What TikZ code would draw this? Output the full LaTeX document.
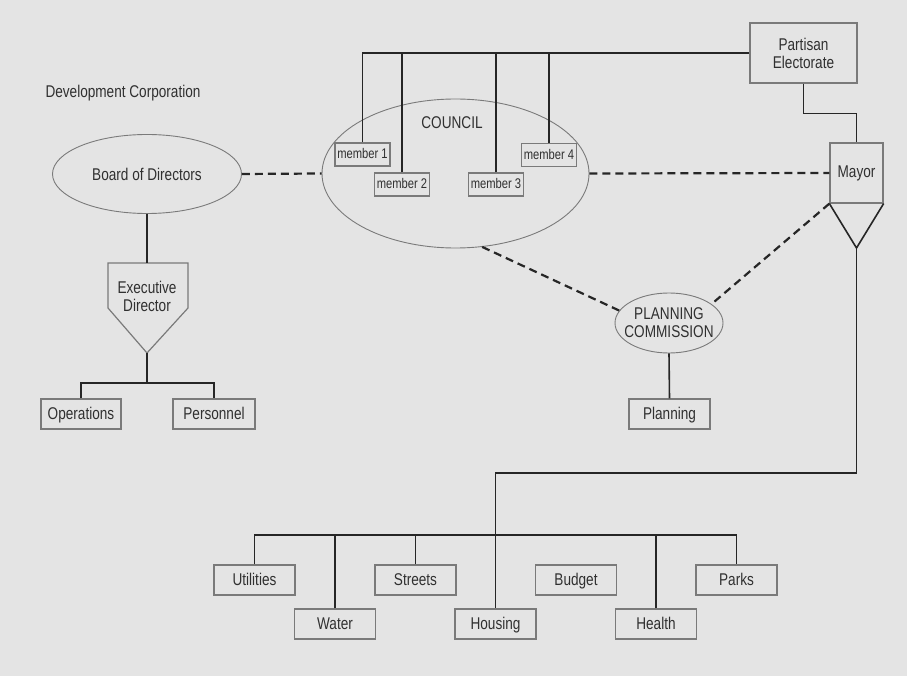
\documentclass[tikz,border=0pt]{standalone}
\usepackage{fontspec}
\setmainfont{Liberation Sans}[FakeStretch=0.8]
\usetikzlibrary{shapes.geometric}
\definecolor{paper}{HTML}{E4E4E4}
\definecolor{edge}{HTML}{7A7A7A}
\definecolor{ink}{HTML}{303030}
\tikzset{
	frame/.style={draw=edge, line width=1.2pt, text=ink, inner sep=0pt},
	unit/.style={frame, minimum width=81pt, minimum height=30pt, text height=13pt, text depth=2.5pt},
	member/.style={unit, minimum width=55pt, minimum height=23pt, text height=10.5pt, text depth=2pt, font=\fontsize{14}{15}\selectfont},
	oval/.style={ellipse, draw=edge, line width=0.9pt, text=ink, inner sep=0pt},
	link/.style={line width=1.6pt, draw=black!85},
	tie/.style={line width=2.2pt, draw=black!85, dash pattern=on 8pt off 5pt},
}
\begin{document}
\begin{tikzpicture}[x=1pt, y=-1pt, font=\fontsize{17}{18}\selectfont, align=center]
	\useasboundingbox[fill=paper] (0,0) rectangle (907,676);
	\node[anchor=west, text=ink] (devcorp) at (42,93) {Development Corporation};
	\node[oval, minimum width=189pt, minimum height=79pt] (board) at (147,174) {Board of Directors};
	\node[text=ink] (exec) at (147,296) {Executive\\Director};
	\draw[draw=edge, line width=1.2pt] (108,263) -- (188,263) -- (188,308) -- (147,353) -- (108,308) -- cycle;
	\coordinate (exectop) at (147,263);
	\coordinate (execapex) at (147,353);
	\node[unit, minimum width=80pt] (ops) at (81,414) {Operations};
	\node[unit, minimum width=82pt] (pers) at (214,414) {Personnel};
	\node[oval, minimum width=267pt, minimum height=149pt] (council) at (455.5,173.5) {};
	\node[text=ink] (councilname) at (452,123) {COUNCIL};
	\node[member] (m1) at (362.5,154.5) {member 1};
	\node[member] (m2) at (402,184.5) {member 2};
	\node[member] (m3) at (496,184.5) {member 3};
	\node[member] (m4) at (549,155) {member 4};
	\node[frame, minimum width=107pt, minimum height=60pt] (partisan) at (803.5,53) {Partisan\\Electorate};
	\node[frame, minimum width=53pt, minimum height=60pt] (mayor) at (856.5,173) {Mayor};
	\coordinate (mayorapex) at (856.5,248);
	\node[oval, minimum width=108pt, minimum height=60pt, label={[text=ink]center:PLANNING\\COMMISSION}] (pc) at (669,323) {};
	\node[unit] (plan) at (669.5,414) {Planning};
	\node[unit] (util) at (254.5,580) {Utilities};
	\node[unit] (water) at (335,624) {Water};
	\node[unit] (streets) at (415.5,580) {Streets};
	\node[unit] (housing) at (495.5,624) {Housing};
	\node[unit] (budget) at (576,580) {Budget};
	\node[unit] (health) at (656,624) {Health};
	\node[unit] (parks) at (736.5,580) {Parks};
	\coordinate (devbus) at (0,383);
	\coordinate (citybus) at (0,535);
\draw[tie] (board.east) -- (council.west);
\draw[tie] (council.east) -- (mayor.west);
\draw[tie] (council.-70) -- (pc.166);
\draw[tie] (mayor.south west) -- (pc.24);
\draw[link] (board.south) -- (exectop);
\draw[link] (execapex) -- (execapex |- devbus);
\draw[link] (ops.north) -- (ops.north |- devbus) -| (pers.north);
\draw[link] (m1.north) |- (partisan.west);
\draw[link] (m2.north) -- (m2.north |- partisan.west);
\draw[link] (m3.north) -- (m3.north |- partisan.west);
\draw[link] (m4.north) -- (m4.north |- partisan.west);
\draw[link] (partisan.south) -- ++(0,30) -| (mayor.north);
\draw[link] (mayor.south west) -- (mayorapex) -- (mayor.south east);
\draw[link] (pc.south) -- (plan.north);
\draw[link] (mayorapex) -- ++(0,225) -| (housing.north);
\draw[link] (util.north) -- (util.north |- citybus) -| (parks.north);
\draw[link] (water.north) -- (water.north |- citybus);
\draw[link] (streets.north) -- (streets.north |- citybus);
\draw[link] (health.north) -- (health.north |- citybus);
\end{tikzpicture}
\end{document}
